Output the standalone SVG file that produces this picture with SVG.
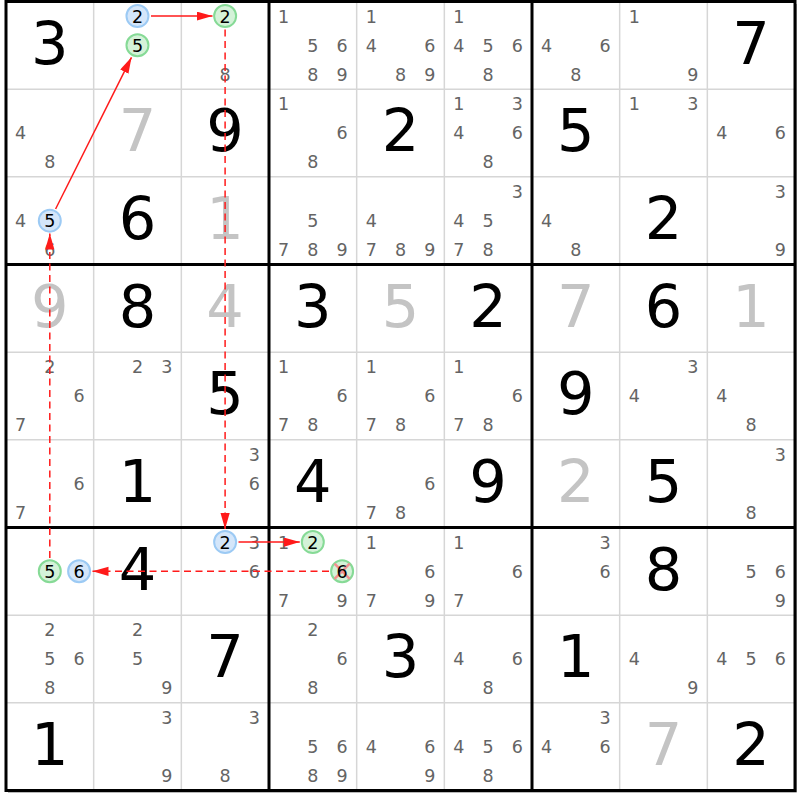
<svg xmlns="http://www.w3.org/2000/svg" width="800" height="800" viewBox="0 0 800 800">
<style>
text{font-family:"DejaVu Sans","Liberation Sans",sans-serif;text-anchor:middle}
.c{font-size:17.5px;fill:#646464}
.k{font-size:17.5px;fill:#000}
.g{font-size:59px;fill:#000}
.s{font-size:59px;fill:#c4c4c4}
.thin{stroke:#d6d6d6;stroke-width:1.5}
.thick{stroke:#000;stroke-width:3}
.cb{fill:#d4e6fa;stroke:#9ccaf4;stroke-width:2}
.cg{fill:#d4f2d8;stroke:#86da96;stroke-width:2}
.x{stroke:#f29090;stroke-width:2.5}
.arr{stroke:#ff1a1a;stroke-width:1.5;fill:none;marker-end:url(#ah)}
.dash{stroke-dasharray:7 4.5}
</style>
<defs>
<marker id="ah" markerUnits="userSpaceOnUse" markerWidth="17" markerHeight="10" refX="16" refY="4.6" orient="auto">
<path d="M0,0 L16,4.6 L0,9.2 z" fill="#ff1a1a"/>
</marker>
</defs>
<rect x="0" y="0" width="800" height="800" fill="#fff"/>
<g id="grid">
<line class="thin" x1="93.67" y1="1.5" x2="93.67" y2="790.5"/>
<line class="thin" x1="181.33" y1="1.5" x2="181.33" y2="790.5"/>
<line class="thin" x1="356.67" y1="1.5" x2="356.67" y2="790.5"/>
<line class="thin" x1="444.33" y1="1.5" x2="444.33" y2="790.5"/>
<line class="thin" x1="619.67" y1="1.5" x2="619.67" y2="790.5"/>
<line class="thin" x1="707.33" y1="1.5" x2="707.33" y2="790.5"/>
<line class="thin" x1="6" y1="89.17" x2="795" y2="89.17"/>
<line class="thin" x1="6" y1="176.83" x2="795" y2="176.83"/>
<line class="thin" x1="6" y1="352.17" x2="795" y2="352.17"/>
<line class="thin" x1="6" y1="439.83" x2="795" y2="439.83"/>
<line class="thin" x1="6" y1="615.17" x2="795" y2="615.17"/>
<line class="thin" x1="6" y1="702.83" x2="795" y2="702.83"/>
<line class="thick" x1="269" y1="1.5" x2="269" y2="790.5"/>
<line class="thick" x1="532" y1="1.5" x2="532" y2="790.5"/>
<line class="thick" x1="6" y1="264.5" x2="795" y2="264.5"/>
<line class="thick" x1="6" y1="527.5" x2="795" y2="527.5"/>
<polyline points="796.5,4 796.5,792.3 8,792.3" fill="none" stroke="#a8a8a8" stroke-width="1"/>
<rect x="6" y="1.5" width="789" height="789" fill="none" stroke="#000" stroke-width="3"/>
</g>

<!-- row 0 -->
<g id="r0c0" transform="translate(6,1.5)"><text class="g" x="43.8" y="62">3</text></g>
<g id="r0c1" transform="translate(93.67,1.5)"><circle class="cb" cx="43.8" cy="14.6" r="11"/><text class="k" x="43.8" y="21">2</text><circle class="cg" cx="43.8" cy="43.8" r="11"/><text class="k" x="43.8" y="50.2">5</text></g>
<g id="r0c2" transform="translate(181.33,1.5)"><circle class="cg" cx="43.8" cy="14.6" r="11"/><text class="k" x="43.8" y="21">2</text><text class="c" x="43.8" y="79.2">8</text></g>
<g id="r0c3" class="c" transform="translate(269,1.5)"><text x="14.6" y="21">1</text><text x="43.8" y="50.2">5</text><text x="73.1" y="50.2">6</text><text x="43.8" y="79.2">8</text><text x="73.1" y="79.2">9</text></g>
<g id="r0c4" class="c" transform="translate(356.67,1.5)"><text x="14.6" y="21">1</text><text x="14.6" y="50.2">4</text><text x="73.1" y="50.2">6</text><text x="43.8" y="79.2">8</text><text x="73.1" y="79.2">9</text></g>
<g id="r0c5" class="c" transform="translate(444.33,1.5)"><text x="14.6" y="21">1</text><text x="14.6" y="50.2">4</text><text x="43.8" y="50.2">5</text><text x="73.1" y="50.2">6</text><text x="43.8" y="79.2">8</text></g>
<g id="r0c6" class="c" transform="translate(532,1.5)"><text x="14.6" y="50.2">4</text><text x="73.1" y="50.2">6</text><text x="43.8" y="79.2">8</text></g>
<g id="r0c7" class="c" transform="translate(619.67,1.5)"><text x="14.6" y="21">1</text><text x="73.1" y="79.2">9</text></g>
<g id="r0c8" transform="translate(707.33,1.5)"><text class="g" x="43.8" y="62">7</text></g>

<!-- row 1 -->
<g id="r1c0" class="c" transform="translate(6,89.17)"><text x="14.6" y="50.2">4</text><text x="43.8" y="79.2">8</text></g>
<g id="r1c1" transform="translate(93.67,89.17)"><text class="s" x="43.8" y="62">7</text></g>
<g id="r1c2" transform="translate(181.33,89.17)"><text class="g" x="43.8" y="62">9</text></g>
<g id="r1c3" class="c" transform="translate(269,89.17)"><text x="14.6" y="21">1</text><text x="73.1" y="50.2">6</text><text x="43.8" y="79.2">8</text></g>
<g id="r1c4" transform="translate(356.67,89.17)"><text class="g" x="43.8" y="62">2</text></g>
<g id="r1c5" class="c" transform="translate(444.33,89.17)"><text x="14.6" y="21">1</text><text x="73.1" y="21">3</text><text x="14.6" y="50.2">4</text><text x="73.1" y="50.2">6</text><text x="43.8" y="79.2">8</text></g>
<g id="r1c6" transform="translate(532,89.17)"><text class="g" x="43.8" y="62">5</text></g>
<g id="r1c7" class="c" transform="translate(619.67,89.17)"><text x="14.6" y="21">1</text><text x="73.1" y="21">3</text></g>
<g id="r1c8" class="c" transform="translate(707.33,89.17)"><text x="14.6" y="50.2">4</text><text x="73.1" y="50.2">6</text></g>

<!-- row 2 -->
<g id="r2c0" class="c" transform="translate(6,176.83)"><text x="14.6" y="50.2">4</text><circle class="cb" cx="43.8" cy="43.8" r="11"/><text class="k" x="43.8" y="50.2">5</text><text x="43.8" y="79.2">6</text></g>
<g id="r2c1" transform="translate(93.67,176.83)"><text class="g" x="43.8" y="62">6</text></g>
<g id="r2c2" transform="translate(181.33,176.83)"><text class="s" x="43.8" y="62">1</text></g>
<g id="r2c3" class="c" transform="translate(269,176.83)"><text x="43.8" y="50.2">5</text><text x="14.6" y="79.2">7</text><text x="43.8" y="79.2">8</text><text x="73.1" y="79.2">9</text></g>
<g id="r2c4" class="c" transform="translate(356.67,176.83)"><text x="14.6" y="50.2">4</text><text x="14.6" y="79.2">7</text><text x="43.8" y="79.2">8</text><text x="73.1" y="79.2">9</text></g>
<g id="r2c5" class="c" transform="translate(444.33,176.83)"><text x="73.1" y="21">3</text><text x="14.6" y="50.2">4</text><text x="43.8" y="50.2">5</text><text x="14.6" y="79.2">7</text><text x="43.8" y="79.2">8</text></g>
<g id="r2c6" class="c" transform="translate(532,176.83)"><text x="14.6" y="50.2">4</text><text x="43.8" y="79.2">8</text></g>
<g id="r2c7" transform="translate(619.67,176.83)"><text class="g" x="43.8" y="62">2</text></g>
<g id="r2c8" class="c" transform="translate(707.33,176.83)"><text x="73.1" y="21">3</text><text x="73.1" y="79.2">9</text></g>

<!-- row 3 -->
<g id="r3c0" transform="translate(6,264.5)"><text class="s" x="43.8" y="62">9</text></g>
<g id="r3c1" transform="translate(93.67,264.5)"><text class="g" x="43.8" y="62">8</text></g>
<g id="r3c2" transform="translate(181.33,264.5)"><text class="s" x="43.8" y="62">4</text></g>
<g id="r3c3" transform="translate(269,264.5)"><text class="g" x="43.8" y="62">3</text></g>
<g id="r3c4" transform="translate(356.67,264.5)"><text class="s" x="43.8" y="62">5</text></g>
<g id="r3c5" transform="translate(444.33,264.5)"><text class="g" x="43.8" y="62">2</text></g>
<g id="r3c6" transform="translate(532,264.5)"><text class="s" x="43.8" y="62">7</text></g>
<g id="r3c7" transform="translate(619.67,264.5)"><text class="g" x="43.8" y="62">6</text></g>
<g id="r3c8" transform="translate(707.33,264.5)"><text class="s" x="43.8" y="62">1</text></g>

<!-- row 4 -->
<g id="r4c0" class="c" transform="translate(6,352.17)"><text x="43.8" y="21">2</text><text x="73.1" y="50.2">6</text><text x="14.6" y="79.2">7</text></g>
<g id="r4c1" class="c" transform="translate(93.67,352.17)"><text x="43.8" y="21">2</text><text x="73.1" y="21">3</text></g>
<g id="r4c2" transform="translate(181.33,352.17)"><text class="g" x="43.8" y="62">5</text></g>
<g id="r4c3" class="c" transform="translate(269,352.17)"><text x="14.6" y="21">1</text><text x="73.1" y="50.2">6</text><text x="14.6" y="79.2">7</text><text x="43.8" y="79.2">8</text></g>
<g id="r4c4" class="c" transform="translate(356.67,352.17)"><text x="14.6" y="21">1</text><text x="73.1" y="50.2">6</text><text x="14.6" y="79.2">7</text><text x="43.8" y="79.2">8</text></g>
<g id="r4c5" class="c" transform="translate(444.33,352.17)"><text x="14.6" y="21">1</text><text x="73.1" y="50.2">6</text><text x="14.6" y="79.2">7</text><text x="43.8" y="79.2">8</text></g>
<g id="r4c6" transform="translate(532,352.17)"><text class="g" x="43.8" y="62">9</text></g>
<g id="r4c7" class="c" transform="translate(619.67,352.17)"><text x="73.1" y="21">3</text><text x="14.6" y="50.2">4</text></g>
<g id="r4c8" class="c" transform="translate(707.33,352.17)"><text x="14.6" y="50.2">4</text><text x="43.8" y="79.2">8</text></g>

<!-- row 5 -->
<g id="r5c0" class="c" transform="translate(6,439.83)"><text x="73.1" y="50.2">6</text><text x="14.6" y="79.2">7</text></g>
<g id="r5c1" transform="translate(93.67,439.83)"><text class="g" x="43.8" y="62">1</text></g>
<g id="r5c2" class="c" transform="translate(181.33,439.83)"><text x="73.1" y="21">3</text><text x="73.1" y="50.2">6</text></g>
<g id="r5c3" transform="translate(269,439.83)"><text class="g" x="43.8" y="62">4</text></g>
<g id="r5c4" class="c" transform="translate(356.67,439.83)"><text x="73.1" y="50.2">6</text><text x="14.6" y="79.2">7</text><text x="43.8" y="79.2">8</text></g>
<g id="r5c5" transform="translate(444.33,439.83)"><text class="g" x="43.8" y="62">9</text></g>
<g id="r5c6" transform="translate(532,439.83)"><text class="s" x="43.8" y="62">2</text></g>
<g id="r5c7" transform="translate(619.67,439.83)"><text class="g" x="43.8" y="62">5</text></g>
<g id="r5c8" class="c" transform="translate(707.33,439.83)"><text x="73.1" y="21">3</text><text x="43.8" y="79.2">8</text></g>

<!-- row 6 -->
<g id="r6c0" transform="translate(6,527.5)"><circle class="cg" cx="43.8" cy="43.8" r="11"/><text class="k" x="43.8" y="50.2">5</text><circle class="cb" cx="73.1" cy="43.8" r="11"/><text class="k" x="73.1" y="50.2">6</text></g>
<g id="r6c1" transform="translate(93.67,527.5)"><text class="g" x="43.8" y="62">4</text></g>
<g id="r6c2" class="c" transform="translate(181.33,527.5)"><circle class="cb" cx="43.8" cy="14.6" r="11"/><text class="k" x="43.8" y="21">2</text><text x="73.1" y="21">3</text><text x="73.1" y="50.2">6</text></g>
<g id="r6c3" class="c" transform="translate(269,527.5)"><text x="14.6" y="21">1</text><circle class="cg" cx="43.8" cy="14.6" r="11"/><text class="k" x="43.8" y="21">2</text><circle class="cg" cx="73.1" cy="43.8" r="11"/><line class="x" x1="65.5" y1="36.2" x2="80.7" y2="51.4"/><line class="x" x1="80.7" y1="36.2" x2="65.5" y2="51.4"/><text class="k" x="73.1" y="50.2">6</text><text x="14.6" y="79.2">7</text><text x="73.1" y="79.2">9</text></g>
<g id="r6c4" class="c" transform="translate(356.67,527.5)"><text x="14.6" y="21">1</text><text x="73.1" y="50.2">6</text><text x="14.6" y="79.2">7</text><text x="73.1" y="79.2">9</text></g>
<g id="r6c5" class="c" transform="translate(444.33,527.5)"><text x="14.6" y="21">1</text><text x="73.1" y="50.2">6</text><text x="14.6" y="79.2">7</text></g>
<g id="r6c6" class="c" transform="translate(532,527.5)"><text x="73.1" y="21">3</text><text x="73.1" y="50.2">6</text></g>
<g id="r6c7" transform="translate(619.67,527.5)"><text class="g" x="43.8" y="62">8</text></g>
<g id="r6c8" class="c" transform="translate(707.33,527.5)"><text x="43.8" y="50.2">5</text><text x="73.1" y="50.2">6</text><text x="73.1" y="79.2">9</text></g>

<!-- row 7 -->
<g id="r7c0" class="c" transform="translate(6,615.17)"><text x="43.8" y="21">2</text><text x="43.8" y="50.2">5</text><text x="73.1" y="50.2">6</text><text x="43.8" y="79.2">8</text></g>
<g id="r7c1" class="c" transform="translate(93.67,615.17)"><text x="43.8" y="21">2</text><text x="43.8" y="50.2">5</text><text x="73.1" y="79.2">9</text></g>
<g id="r7c2" transform="translate(181.33,615.17)"><text class="g" x="43.8" y="62">7</text></g>
<g id="r7c3" class="c" transform="translate(269,615.17)"><text x="43.8" y="21">2</text><text x="73.1" y="50.2">6</text><text x="43.8" y="79.2">8</text></g>
<g id="r7c4" transform="translate(356.67,615.17)"><text class="g" x="43.8" y="62">3</text></g>
<g id="r7c5" class="c" transform="translate(444.33,615.17)"><text x="14.6" y="50.2">4</text><text x="73.1" y="50.2">6</text><text x="43.8" y="79.2">8</text></g>
<g id="r7c6" transform="translate(532,615.17)"><text class="g" x="43.8" y="62">1</text></g>
<g id="r7c7" class="c" transform="translate(619.67,615.17)"><text x="14.6" y="50.2">4</text><text x="73.1" y="79.2">9</text></g>
<g id="r7c8" class="c" transform="translate(707.33,615.17)"><text x="14.6" y="50.2">4</text><text x="43.8" y="50.2">5</text><text x="73.1" y="50.2">6</text></g>

<!-- row 8 -->
<g id="r8c0" transform="translate(6,702.83)"><text class="g" x="43.8" y="62">1</text></g>
<g id="r8c1" class="c" transform="translate(93.67,702.83)"><text x="73.1" y="21">3</text><text x="73.1" y="79.2">9</text></g>
<g id="r8c2" class="c" transform="translate(181.33,702.83)"><text x="73.1" y="21">3</text><text x="43.8" y="79.2">8</text></g>
<g id="r8c3" class="c" transform="translate(269,702.83)"><text x="43.8" y="50.2">5</text><text x="73.1" y="50.2">6</text><text x="43.8" y="79.2">8</text><text x="73.1" y="79.2">9</text></g>
<g id="r8c4" class="c" transform="translate(356.67,702.83)"><text x="14.6" y="50.2">4</text><text x="73.1" y="50.2">6</text><text x="73.1" y="79.2">9</text></g>
<g id="r8c5" class="c" transform="translate(444.33,702.83)"><text x="14.6" y="50.2">4</text><text x="43.8" y="50.2">5</text><text x="73.1" y="50.2">6</text><text x="43.8" y="79.2">8</text></g>
<g id="r8c6" class="c" transform="translate(532,702.83)"><text x="73.1" y="21">3</text><text x="14.6" y="50.2">4</text><text x="73.1" y="50.2">6</text></g>
<g id="r8c7" transform="translate(619.67,702.83)"><text class="s" x="43.8" y="62">7</text></g>
<g id="r8c8" transform="translate(707.33,702.83)"><text class="g" x="43.8" y="62">2</text></g>

<g id="connectors">
<line class="arr" x1="151" y1="16.1" x2="212.5" y2="16.1"/>
<line class="arr" x1="55.6" y1="209" x2="131.5" y2="57.3"/>
<line class="arr dash" x1="225.1" y1="29.5" x2="225.1" y2="529"/>
<line class="arr" x1="238.5" y1="542.1" x2="299.8" y2="542.1"/>
<line class="arr dash" x1="329" y1="571.3" x2="92.5" y2="571.3"/>
<line class="arr dash" x1="49.8" y1="558" x2="49.8" y2="233.5"/>
</g>
</svg>
